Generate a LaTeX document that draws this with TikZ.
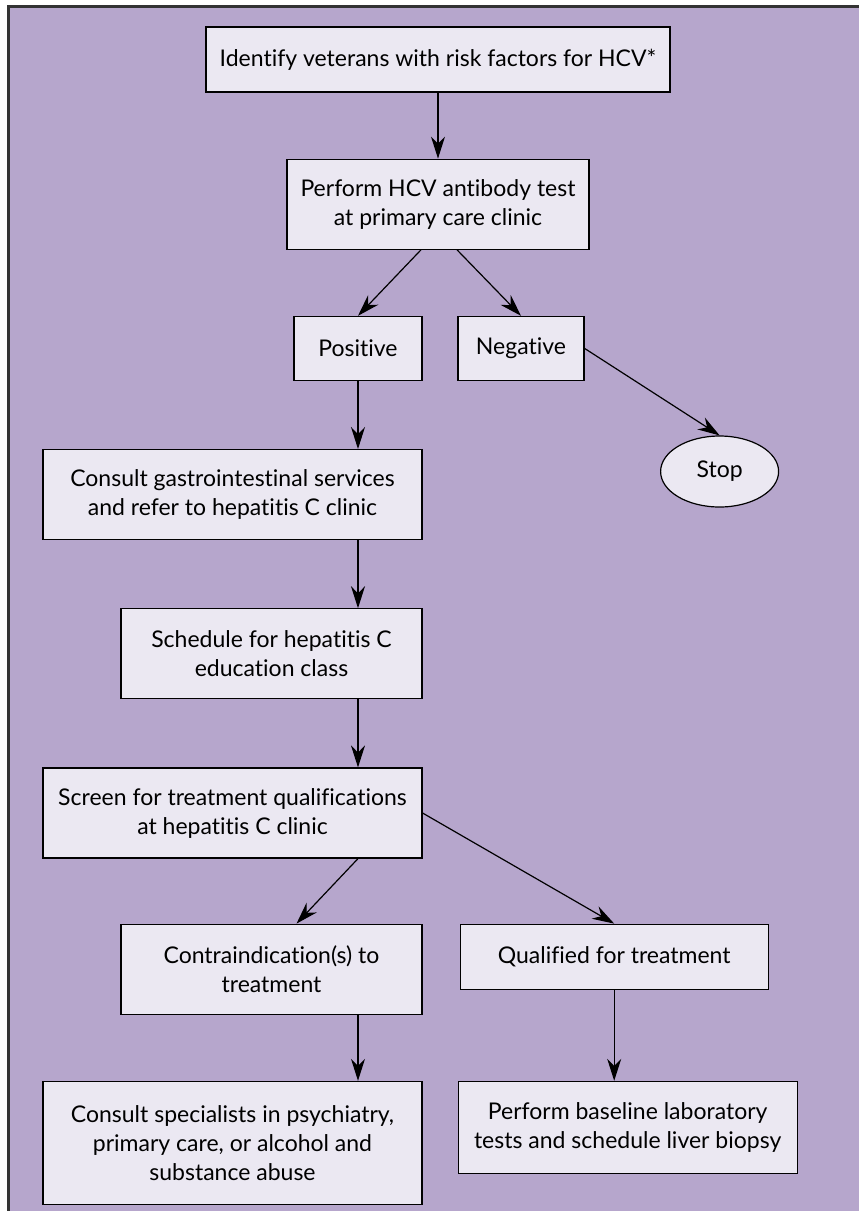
\documentclass[tikz,border=0pt]{standalone}
\usepackage{fontspec}
\setmainfont{Lato}[Ligatures={NoCommon,NoRequired,NoContextual}]
\usetikzlibrary{arrows.meta,positioning,shapes.geometric}
\definecolor{panel}{RGB}{182,166,204}
\definecolor{boxfill}{RGB}{235,232,242}
\begin{document}
\begin{tikzpicture}[x=1bp, y=-1bp, every node/.style={font=\fontsize{23bp}{29bp}\selectfont}, box/.style={draw, fill=boxfill, line width=1.2bp, align=center, inner sep=0pt}, oval/.style={box, ellipse}, arr/.style={->, line width=1.2bp}, >={Stealth[length=22bp,width=14bp]}]
\useasboundingbox (0,0) rectangle (859,1211);
\fill[white] (0,0) rectangle (859,1211);
\fill[panel] (8.5,6.5) rectangle (859,1211);
\draw[line width=2.5bp, black!80] (8.5,1211) -- (8.5,6.5) -- (859,6.5);
\node[box, minimum width=464bp, minimum height=65bp] (identify) at (438,59.5) {Identify veterans with risk factors for HCV*};
\node[box, minimum width=302bp, minimum height=90bp, below=66bp of identify] (perform) {Perform HCV antibody test\\at primary care clinic};
\node[box, minimum width=128bp, minimum height=64bp, below=66bp of perform, xshift=-80bp] (positive) {Positive};
\node[box, minimum width=126bp, minimum height=64bp, below=66bp of perform, xshift=83bp] (negative) {Negative};
\node[oval, minimum width=118bp, minimum height=71bp, below right=87bp and 135bp of negative.east, anchor=north] (stop) {Stop};
\node[box, minimum width=379bp, minimum height=90bp, below=68bp of positive.south east, anchor=north east] (consultgi) {Consult gastrointestinal services\\and refer to hepatitis C clinic};
\node[box, minimum width=301bp, minimum height=90bp, below=68bp of consultgi.south east, anchor=north east] (schedule) {Schedule for hepatitis C\\education class};
\node[box, minimum width=379bp, minimum height=90bp, below=68bp of schedule.south east, anchor=north east] (screen) {Screen for treatment qualifications\\at hepatitis C clinic};
\node[box, minimum width=301bp, minimum height=90bp, below=65bp of screen.south east, anchor=north east] (contra) {Contraindication(s) to\\treatment};
\node[box, minimum width=308bp, minimum height=65bp, right=37bp of contra.north east, anchor=north west] (qualified) {Qualified for treatment};
\node[box, minimum width=379bp, minimum height=123bp, below=66bp of contra.south east, anchor=north east] (specialists) {Consult specialists in psychiatry,\\primary care, or alcohol and\\substance abuse};
\node[box, minimum width=339bp, minimum height=92bp, right=35bp of specialists.north east, anchor=north west] (baseline) {Perform baseline laboratory\\tests and schedule liver biopsy};
\draw[arr] (identify) -- (perform);
\draw[arr] ([xshift=-17bp]perform.south) -- (positive.north);
\draw[arr] ([xshift=19bp]perform.south) -- (negative.north);
\draw[arr] (negative.east) -- (stop.north);
\draw[arr] (positive.south) -- (positive.south |- consultgi.north);
\draw[arr] (consultgi.south -| positive) -- (schedule.north -| positive);
\draw[arr] (schedule.south -| positive) -- (screen.north -| positive);
\draw[arr] (screen.south -| positive) -- ([xshift=25bp]contra.north);
\draw[arr] (screen.east) -- (qualified.north);
\draw[arr] (contra.south -| positive) -- (specialists.north -| positive);
\draw[arr] (qualified.south) -- (qualified.south |- baseline.north);
\end{tikzpicture}
\end{document}
